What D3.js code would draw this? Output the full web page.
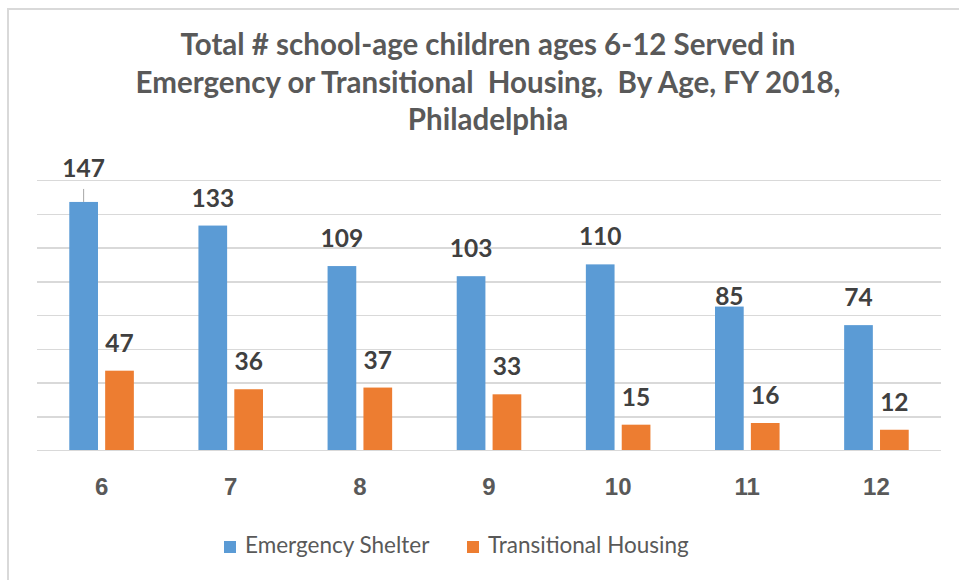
<!DOCTYPE html>
<meta charset="utf-8">
<head>
  <title>Children served by age, FY 2018</title>
</head>
<style>
  body { margin: 0; background: #fff; }
  svg { display: block; font-family: Lato, "Open Sans", sans-serif; }
  .grid line { stroke: #d9d9d9; stroke-width: 1.5px; shape-rendering: crispEdges; }
  .grid path { display: none; }
  .xaxis path, .xaxis line { display: none; }
  .xaxis text { font-size: 24px; font-weight: bold; fill: #595959; }
  .title { font-size: 29.5px; font-weight: bold; fill: #595959; }
  .val { font-size: 24.5px; font-weight: bold; fill: #404040; text-anchor: middle; }
  .legend text { font-size: 22.5px; fill: #595959; }
</style>
<body>
<script src="https://cdn.jsdelivr.net/npm/d3@7"></script>
<script>
// data
var ages = ["6", "7", "8", "9", "10", "11", "12"];
var seriesNames = ["Emergency Shelter", "Transitional Housing"];
var emergency = [147, 133, 109, 103, 110, 85, 74];
var transitional = [47, 36, 37, 33, 15, 16, 12];
var yTicks = [0, 20, 40, 60, 80, 100, 120, 140, 160];
var titleLines = [
  "Total # school-age children ages 6-12 Served in",
  "Emergency or Transitional  Housing,  By Age, FY 2018,",
  "Philadelphia"
];

var colors = ["#5b9bd5", "#ed7d31"];

var width = 959, height = 580;
var plot = {left: 37, right: 941, top: 180, bottom: 450};

var svg = d3.select("body").append("svg")
    .attr("width", width)
    .attr("height", height);

// chart frame (only left and top edges visible in the crop)
svg.append("rect")
    .attr("x", 8).attr("y", 9)
    .attr("width", 1000).attr("height", 1000)
    .attr("fill", "none")
    .attr("stroke", "#d9d9d9")
    .attr("stroke-width", 2);

// title
svg.append("text")
    .attr("class", "title")
    .attr("text-anchor", "middle")
    .selectAll("tspan")
    .data(titleLines)
    .enter().append("tspan")
    .attr("x", 488)
    .attr("y", function(d, i) { return 55 + i * 37.5; })
    .style("white-space", "pre")
    .text(function(d) { return d; });

var x0 = d3.scaleBand()
    .domain(ages)
    .range([plot.left, plot.right])
    .paddingInner(0.5)
    .paddingOuter(0.25);

var x1 = d3.scaleBand()
    .domain([0, 1])
    .range([0, x0.bandwidth()])
    .paddingInner(0.2);

var y = d3.scaleLinear()
    .domain([0, 160])
    .range([plot.bottom, plot.top]);

// gridlines
svg.append("g")
    .attr("class", "grid")
    .attr("transform", "translate(" + plot.left + ",0)")
    .call(d3.axisLeft(y).tickValues(yTicks).tickSize(-(plot.right - plot.left)).tickFormat(""));

// x axis labels
svg.append("g")
    .attr("class", "xaxis")
    .attr("transform", "translate(0," + plot.bottom + ")")
    .call(d3.axisBottom(x0).tickSize(0).tickPadding(28));

var rows = ages.map(function(a, i) {
  return {age: a, values: [emergency[i], transitional[i]]};
});

// label nudges (Excel moved a couple by hand)
var labelGap = {"0-0": 25, "5-0": 2};

var groups = svg.selectAll(".grp")
    .data(rows)
    .enter().append("g")
    .attr("class", "grp")
    .attr("transform", function(d) { return "translate(" + x0(d.age) + ",0)"; });

groups.selectAll("rect")
    .data(function(d) { return d.values; })
    .enter().append("rect")
    .attr("x", function(d, j) { return x1(j); })
    .attr("y", function(d) { return y(d); })
    .attr("width", x1.bandwidth())
    .attr("height", function(d) { return y(0) - y(d); })
    .attr("fill", function(d, j) { return colors[j]; });

groups.each(function(row, i) {
  var g = d3.select(this);
  row.values.forEach(function(v, j) {
    var key = i + "-" + j;
    var gap = labelGap[key] !== undefined ? labelGap[key] : 19;
    var cx = x1(j) + x1.bandwidth() / 2;
    g.append("text")
        .attr("class", "val")
        .attr("x", cx)
        .attr("y", y(v) - gap)
        .text(v);
    if (gap > 22) {
      // leader line for the label that was pulled away from its bar
      g.append("line")
          .attr("x1", cx).attr("x2", cx)
          .attr("y1", y(v) - gap + 12).attr("y2", y(v))
          .attr("stroke", "#a6a6a6")
          .attr("stroke-width", 1);
    }
  });
});

// legend
var legendX = [224, 467];
var legend = svg.append("g").attr("class", "legend");
seriesNames.forEach(function(name, j) {
  legend.append("rect")
      .attr("x", legendX[j]).attr("y", 541)
      .attr("width", 12).attr("height", 12)
      .attr("fill", colors[j]);
  legend.append("text")
      .attr("x", legendX[j] + 21)
      .attr("y", 553)
      .text(name);
});
</script>
</body>
